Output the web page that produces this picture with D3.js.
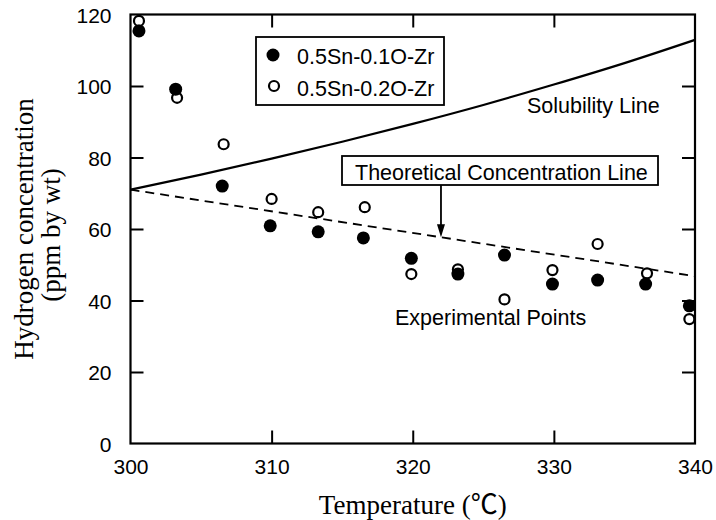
<!DOCTYPE html>
<html>
<head>
<meta charset="utf-8">
<script src="https://cdn.jsdelivr.net/npm/d3@7"></script>
<style>
  html, body { margin: 0; padding: 0; background: #fff; }
  svg { display: block; }
</style>
</head>
<body>
<svg id="chart" width="716" height="520"></svg>
<script>
// ---- Data ----
const xTicks = [300, 310, 320, 330, 340];
const yTicks = [0, 20, 40, 60, 80, 100, 120];

const seriesNames = ["0.5Sn-0.1O-Zr", "0.5Sn-0.2O-Zr"];

// 0.5Sn-0.1O-Zr (filled circles): [temperature, ppm]
const filledTemp = [300.6, 303.2, 306.5, 309.9, 313.3, 316.5, 319.9, 323.2, 326.5, 329.9, 333.1, 336.5, 339.6];
const filledConc = [115.4, 99.1, 72.0, 60.9, 59.2, 57.5, 51.8, 47.4, 52.7, 44.6, 45.7, 44.6, 38.5];

// 0.5Sn-0.2O-Zr (open circles)
const openTemp = [300.6, 303.3, 306.6, 310.0, 313.3, 316.6, 319.9, 323.2, 326.5, 329.9, 333.1, 336.6, 339.6];
const openConc = [118.2, 96.7, 83.7, 68.4, 64.7, 66.1, 47.4, 48.7, 40.3, 48.5, 55.8, 47.6, 34.8];

// Solubility line (solid)
const solTemp = [300, 305, 310, 315, 320, 325, 330, 335, 340];
const solConc = [71.0, 75.2, 79.7, 84.4, 89.4, 94.7, 100.4, 106.4, 112.9];

// Theoretical concentration line (dashed)
const theoTemp = [300, 340];
const theoConc = [71.0, 46.8];

const arrowTemp = 322.0;

// ---- Chart ----
const svg = d3.select("#chart");
const x = d3.scaleLinear().domain([300, 340]).range([130.5, 695]);
const y = d3.scaleLinear().domain([0, 120]).range([443.5, 14.5]);

const sans = "'Liberation Sans', Arial, Helvetica, sans-serif";
const serif = "'Liberation Serif', 'Times New Roman', Times, 'Noto Sans CJK JP', serif";

// Axes (ticks inward)
const tickLen = 13;
const gBottom = svg.append("g").attr("transform", `translate(0,${y(0)})`)
  .call(d3.axisBottom(x).tickValues(xTicks).tickSizeInner(-tickLen).tickSizeOuter(0).tickPadding(tickLen + 16));
const gTop = svg.append("g").attr("transform", `translate(0,${y(120)})`)
  .call(d3.axisTop(x).tickValues(xTicks.slice(1, -1)).tickSizeInner(-tickLen).tickSizeOuter(0).tickFormat(""));
const gLeft = svg.append("g").attr("transform", `translate(${x(300)},0)`)
  .call(d3.axisLeft(y).tickValues(yTicks).tickSizeInner(-tickLen).tickSizeOuter(0).tickPadding(tickLen + 6));
const gRight = svg.append("g").attr("transform", `translate(${x(340)},0)`)
  .call(d3.axisRight(y).tickValues(yTicks.slice(1, -1)).tickSizeInner(-tickLen).tickSizeOuter(0).tickFormat(""));

[gBottom, gTop, gLeft, gRight].forEach(g => {
  g.select(".domain").remove();
  g.selectAll(".tick line").attr("stroke", "#000").attr("stroke-width", 2);
  g.selectAll(".tick text").attr("fill", "#000").style("font-family", sans).style("font-size", "21px");
});
gBottom.selectAll(".tick line").filter(d => d === 300 || d === 340).remove();
gLeft.selectAll(".tick line").filter(d => d === 0 || d === 120).remove();
gBottom.selectAll(".tick text").attr("y", 474 - y(0)).attr("dy", null);
gLeft.selectAll(".tick text").attr("dy", "0.36em");

// Frame
svg.append("rect")
  .attr("x", x(300)).attr("y", y(120))
  .attr("width", x(340) - x(300)).attr("height", y(0) - y(120))
  .attr("fill", "none").attr("stroke", "#000").attr("stroke-width", 2.2);

// Lines
const solLine = d3.line().x((d, i) => x(solTemp[i])).y((d, i) => y(solConc[i])).curve(d3.curveMonotoneX);
svg.append("path").datum(solTemp).attr("d", solLine)
  .attr("fill", "none").attr("stroke", "#000").attr("stroke-width", 2.2);

const theoLine = d3.line().x((d, i) => x(theoTemp[i])).y((d, i) => y(theoConc[i]));
svg.append("path").datum(theoTemp).attr("d", theoLine)
  .attr("fill", "none").attr("stroke", "#000").attr("stroke-width", 1.8)
  .attr("stroke-dasharray", "9,6");

// Points
svg.append("g").selectAll("circle").data(filledTemp).join("circle")
  .attr("cx", (d) => x(d)).attr("cy", (d, i) => y(filledConc[i]))
  .attr("r", 6.5).attr("fill", "#000");
svg.append("g").selectAll("circle").data(openTemp).join("circle")
  .attr("cx", (d) => x(d)).attr("cy", (d, i) => y(openConc[i]))
  .attr("r", 5).attr("fill", "none").attr("stroke", "#000").attr("stroke-width", 2.2);

// Legend
const lg = svg.append("g");
lg.append("rect").attr("x", 256).attr("y", 37).attr("width", 188).attr("height", 68)
  .attr("fill", "#fff").attr("stroke", "#000").attr("stroke-width", 1.8);
lg.append("circle").attr("cx", 273).attr("cy", 55).attr("r", 6.5).attr("fill", "#000");
lg.append("circle").attr("cx", 274).attr("cy", 86).attr("r", 5).attr("fill", "none")
  .attr("stroke", "#000").attr("stroke-width", 2.2);
lg.selectAll("text").data(seriesNames).join("text")
  .attr("x", 297).attr("y", (d, i) => 64 + i * 32)
  .style("font-family", sans).style("font-size", "21.5px").text(d => d);

// Annotations
svg.append("text").attr("x", 527).attr("y", 113)
  .style("font-family", sans).style("font-size", "21.5px").text("Solubility Line");
svg.append("text").attr("x", 395).attr("y", 325)
  .style("font-family", sans).style("font-size", "21.5px").text("Experimental Points");

svg.append("rect").attr("x", 342).attr("y", 156).attr("width", 316).attr("height", 29)
  .attr("fill", "#fff").attr("stroke", "#000").attr("stroke-width", 1.8);
svg.append("text").attr("x", 355).attr("y", 180)
  .style("font-family", sans).style("font-size", "21.5px").text("Theoretical Concentration Line");

const ax = x(arrowTemp);
const tipY = y(theoConc[0] + (theoConc[1] - theoConc[0]) * (arrowTemp - theoTemp[0]) / (theoTemp[1] - theoTemp[0]));
svg.append("line").attr("x1", ax).attr("x2", ax).attr("y1", 185).attr("y2", tipY - 6)
  .attr("stroke", "#000").attr("stroke-width", 1.8);
svg.append("path")
  .attr("d", `M${ax - 4},${tipY - 13} L${ax + 4},${tipY - 13} L${ax},${tipY} Z`)
  .attr("fill", "#000");

// Axis titles
svg.append("text").attr("x", (x(300) + x(340)) / 2).attr("y", 514)
  .attr("text-anchor", "middle")
  .style("font-family", serif).style("font-size", "27px").text("Temperature (℃)");

const yt = svg.append("g").attr("transform", `translate(0,${(y(0) + y(120)) / 2}) rotate(-90)`);
yt.append("text").attr("x", 0).attr("y", 33).attr("text-anchor", "middle")
  .style("font-family", serif).style("font-size", "27px").text("Hydrogen concentration");
yt.append("text").attr("x", -6).attr("y", 60).attr("text-anchor", "middle")
  .style("font-family", serif).style("font-size", "27px").text("(ppm by wt)");
</script>
</body>
</html>
